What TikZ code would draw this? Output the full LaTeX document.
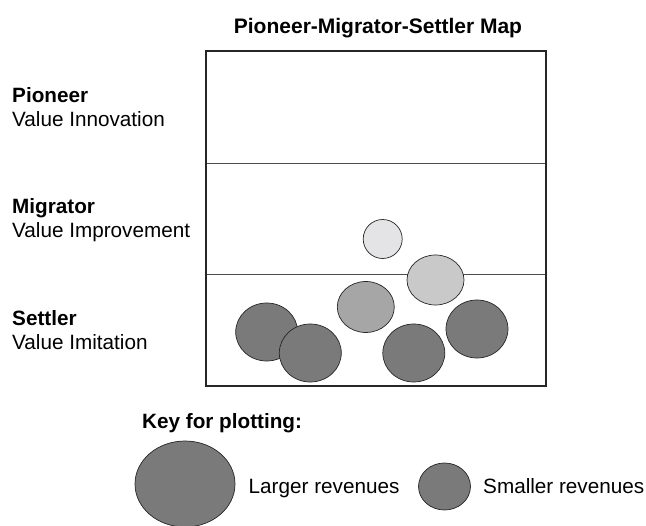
\documentclass[tikz,border=0pt]{standalone}
\usepackage{fontspec}
\setmainfont{Liberation Sans}
\usetikzlibrary{shapes.geometric}

\definecolor{darkfirm}{HTML}{7A7A7A}
\definecolor{midfirm}{HTML}{A6A6A6}
\definecolor{lightfirm}{HTML}{C9C9C9}
\definecolor{palefirm}{HTML}{E4E4E6}

\tikzset{
  firm/.style={ellipse, draw=black!85, line width=0.7pt, inner sep=0pt},
  lbl/.style={anchor=base west, inner sep=0pt, font=\fontsize{20.7}{24}\selectfont},
}

\begin{document}
\begin{tikzpicture}[x=1pt,y=-1pt]
        \useasboundingbox (0,0) rectangle (646,526);

        % title
        \node[lbl, anchor=base, font=\fontsize{21}{24}\selectfont\bfseries] (title) at (378,34) {Pioneer-Migrator-Settler Map};

        % map frame and the two bands
        \draw[black!70, line width=0.7pt] (206,163) -- (546,163);
        \draw[black!70, line width=0.7pt] (206,274) -- (546,274);
        \draw[black!85, line width=1.2pt] (206,51) rectangle (546,386);

        % row labels
        \node[lbl, font=\fontsize{20.7}{24}\selectfont\bfseries] (pioneer) at (12,102.5) {Pioneer};
        \node[lbl] (pioneerval) at (12,127) {Value Innovation};
        \node[lbl, font=\fontsize{20.7}{24}\selectfont\bfseries] (migrator) at (12,213.5) {Migrator};
        \node[lbl] (migratorval) at (12,238) {Value Improvement};
        \node[lbl, font=\fontsize{20.7}{24}\selectfont\bfseries] (settler) at (12,326) {Settler};
        \node[lbl] (settlerval) at (12,350) {Value Imitation};

        % plotted businesses
        \node[firm, fill=palefirm, minimum width=39pt, minimum height=39pt] (f1) at (382.7,239) {};
        \node[firm, fill=lightfirm, minimum width=57pt, minimum height=50pt] (f2) at (435.5,280) {};
        \node[firm, fill=midfirm, minimum width=57pt, minimum height=51pt] (f3) at (365.8,307) {};
        \node[firm, fill=darkfirm, minimum width=62pt, minimum height=58pt] (f4) at (266.7,332) {};
        \node[firm, fill=darkfirm, minimum width=62pt, minimum height=58pt] (f5) at (310.3,353) {};
        \node[firm, fill=darkfirm, minimum width=62pt, minimum height=58pt] (f6) at (413.8,353) {};
        \node[firm, fill=darkfirm, minimum width=62pt, minimum height=58pt] (f7) at (477,329) {};

        % key
        \node[lbl, font=\fontsize{20.7}{24}\selectfont\bfseries] (key) at (142,429) {Key for plotting:};
        \node[firm, fill=darkfirm, minimum width=100pt, minimum height=86pt] (bigkey) at (185,484) {};
        \node[lbl] (biglbl) at (248.5,494) {Larger revenues};
        \node[firm, fill=darkfirm, minimum width=52pt, minimum height=47pt] (smallkey) at (444.5,486.5) {};
        \node[lbl] (smalllbl) at (483,494) {Smaller revenues};
\end{tikzpicture}
\end{document}
